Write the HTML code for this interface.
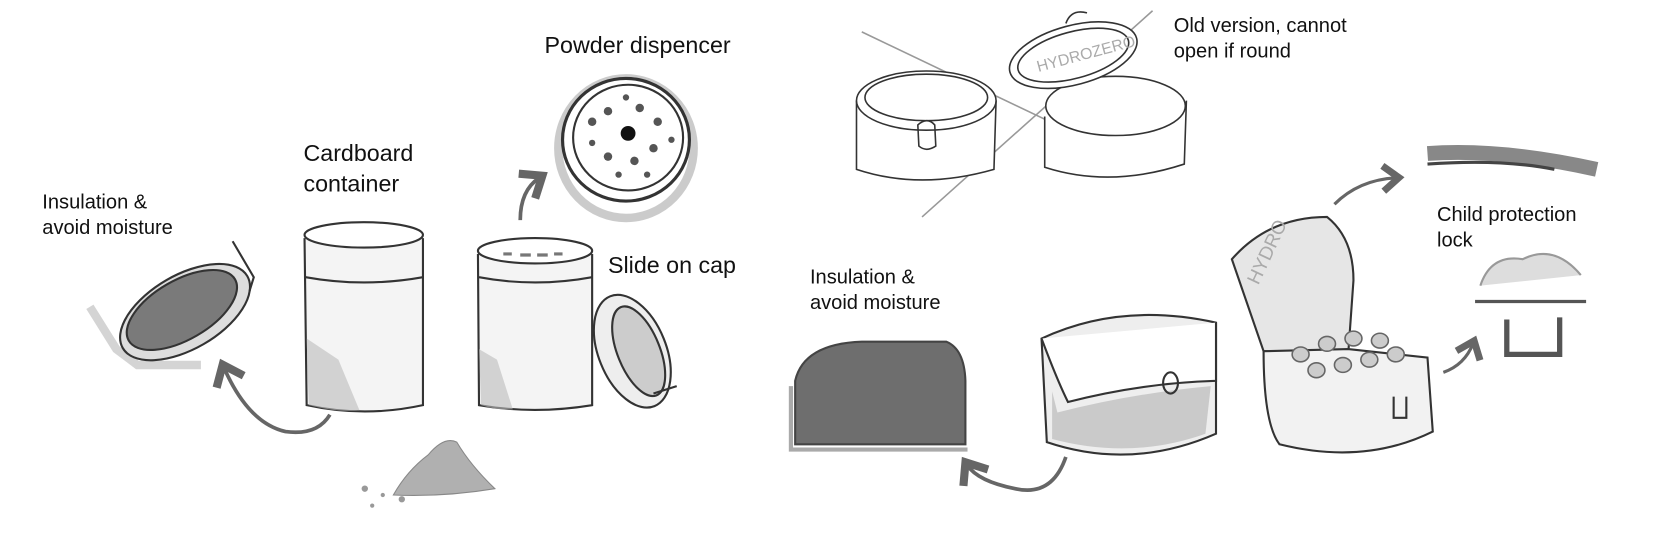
<!DOCTYPE html>
<html><head><meta charset="utf-8"><style>
html,body{margin:0;padding:0;background:#fff;}
svg{display:block;}
text{font-family:"Liberation Sans",sans-serif;fill:#111;stroke:none;}
</style></head><body>
<svg width="1658" height="547" viewBox="0 0 1568 517" xmlns="http://www.w3.org/2000/svg">
<defs>
<marker id="ah" markerWidth="10" markerHeight="10" refX="5" refY="5" orient="auto"><path d="M1,1 L6,5 L1,9" fill="none" stroke="#666" stroke-width="2.2"/></marker>
</defs>
<g stroke="#333" stroke-width="2" fill="none">
<!-- left lid -->
<path d="M85,290 L110,330 L130,345 L190,345" stroke="#aaa" stroke-width="8" opacity=".5"/>
<ellipse cx="175" cy="295" rx="68" ry="35" transform="rotate(-30 175 295)" fill="#ddd"/>
<ellipse cx="172" cy="293" rx="58" ry="28" transform="rotate(-30 172 293)" fill="#7a7a7a"/>
<path d="M220,228 L240,262 L236,275"/>
<!-- cardboard container -->
<path d="M288,225 L290,383 Q345,395 400,383 L400,225" fill="#f4f4f4"/>
<path d="M290,320 L292,383 Q320,390 340,388 L320,340 Z" fill="#bbb" stroke="none" opacity=".6"/>
<ellipse cx="344" cy="222" rx="56" ry="12" fill="#fff"/>
<path d="M289,262 Q344,272 400,262"/>
<!-- second cylinder -->
<path d="M452,240 L453,383 Q505,392 560,383 L560,240" fill="#f4f4f4"/>
<path d="M453,330 L455,383 Q470,388 485,387 L470,340 Z" fill="#bbb" stroke="none" opacity=".6"/>
<ellipse cx="506" cy="237" rx="54" ry="12" fill="#fff"/>
<path d="M476,240 h8 M492,241 h10 M508,241 h10 M524,240 h8" stroke="#777" stroke-width="3"/>
<path d="M453,262 Q506,272 560,262"/>
<!-- cap -->
<ellipse cx="598" cy="332" rx="32" ry="56" transform="rotate(-22 598 332)" fill="#eee"/>
<ellipse cx="604" cy="332" rx="20" ry="45" transform="rotate(-22 604 332)" fill="#ccc"/>
<path d="M618,372 L640,365" />
<!-- powder dispenser -->
<ellipse cx="592" cy="140" rx="64" ry="66" fill="#fff" stroke="#999" stroke-width="8" opacity=".5"/>
<ellipse cx="592" cy="132" rx="60" ry="58" fill="#fff" stroke-width="3"/>
<ellipse cx="594" cy="130" rx="52" ry="50"/>
<g fill="#555" stroke="none">
<circle cx="594" cy="126" r="7" fill="#111"/>
<circle cx="560" cy="115" r="4"/><circle cx="575" cy="105" r="4"/><circle cx="605" cy="102" r="4"/><circle cx="622" cy="115" r="4"/>
<circle cx="618" cy="140" r="4"/><circle cx="600" cy="152" r="4"/><circle cx="575" cy="148" r="4"/><circle cx="560" cy="135" r="3"/>
<circle cx="635" cy="132" r="3"/><circle cx="585" cy="165" r="3"/><circle cx="612" cy="165" r="3"/><circle cx="592" cy="92" r="3"/>
</g>
<!-- arrows left -->
<path d="M312,392 Q300,412 270,408 Q235,400 212,348" stroke="#666" stroke-width="3.5" marker-end="url(#ah)"/>
<path d="M492,208 Q492,180 510,168" stroke="#666" stroke-width="3.5" marker-end="url(#ah)"/>
<!-- powder pile -->
<path d="M372,468 Q385,445 405,430 Q420,412 432,418 Q445,440 468,462 Q420,470 372,468 Z" fill="#b0b0b0" stroke="#888" stroke-width="1"/>
<g fill="#999" stroke="none"><circle cx="345" cy="462" r="3"/><circle cx="352" cy="478" r="2"/><circle cx="380" cy="472" r="3"/><circle cx="362" cy="468" r="2"/></g>

<!-- old version containers -->
<g stroke-width="1.5">
<line x1="815" y1="30" x2="1035" y2="135" stroke="#999"/>
<line x1="872" y1="205" x2="1090" y2="10" stroke="#999"/>
<path d="M810,95 L810,160 Q870,180 940,160 L942,95" fill="#fff"/>
<ellipse cx="876" cy="95" rx="66" ry="28" fill="#fff"/>
<ellipse cx="876" cy="92" rx="58" ry="22"/>
<path d="M868,118 q9,-8 16,0 l1,20 q-9,6 -16,0 z"/>
<path d="M988,110 L988,158 Q1050,178 1120,155 L1122,95" fill="#fff"/>
<ellipse cx="1055" cy="100" rx="66" ry="28" fill="#fff"/>
<ellipse cx="1015" cy="52" rx="62" ry="28" transform="rotate(-15 1015 52)" fill="#fff"/>
<ellipse cx="1015" cy="52" rx="54" ry="22" transform="rotate(-15 1015 52)"/>
<path d="M1008,22 q5,-14 20,-10"/>
<text x="982" y="68" font-size="15" transform="rotate(-15 982 68)" style="fill:#aaa">HYDROZERO</text>
</g>
<!-- bottom right -->
<path d="M752,360 Q760,325 815,323 L895,323 Q912,330 913,360 L913,420 L752,420 Z" fill="#6e6e6e" stroke="#444"/>
<path d="M748,365 L748,425 L915,425" stroke="#aaa" stroke-width="4"/>
<path d="M985,320 Q1060,285 1150,305 L1150,410 Q1070,445 990,418 Z" fill="#eee"/>
<path d="M985,320 Q1000,360 1010,380 Q1080,362 1150,360 L1150,305" fill="#fff"/>
<path d="M995,370 L995,415 Q1070,435 1140,410 L1145,365 Q1070,372 1000,390 Z" fill="#bbb" stroke="none" opacity=".7"/>
<ellipse cx="1107" cy="362" rx="7" ry="10"/>
<!-- open box -->
<path d="M1165,245 Q1200,205 1255,205 Q1280,225 1280,265 L1275,335 L1195,332 Z" fill="#e6e6e6"/>
<path d="M1195,332 L1275,330 L1350,338 L1355,408 Q1290,440 1210,420 Q1195,400 1195,332 Z" fill="#f2f2f2"/>
<g fill="#ccc" stroke="#666" stroke-width="1.5"><ellipse cx="1230" cy="335" rx="8" ry="7"/><ellipse cx="1255" cy="325" rx="8" ry="7"/><ellipse cx="1280" cy="320" rx="8" ry="7"/><ellipse cx="1305" cy="322" rx="8" ry="7"/><ellipse cx="1245" cy="350" rx="8" ry="7"/><ellipse cx="1270" cy="345" rx="8" ry="7"/><ellipse cx="1295" cy="340" rx="8" ry="7"/><ellipse cx="1320" cy="335" rx="8" ry="7"/></g>
<path d="M1318,375 l0,20 l12,0 l0,-20"/>
<text x="1190" y="270" font-size="18" transform="rotate(-65 1190 270)" style="fill:#aaa">HYDRO</text>
<!-- lock parts -->
<path d="M1350,145 Q1420,140 1510,160" stroke="#888" stroke-width="14"/>
<path d="M1350,155 Q1420,150 1470,160" stroke="#444" stroke-width="3"/>
<path d="M1395,285 L1500,285" stroke="#555" stroke-width="3"/>
<path d="M1400,270 q10,-30 40,-25 q30,-15 55,15" fill="#ddd" stroke="#999"/>
<path d="M1425,302 L1425,335 L1475,335 L1475,300" stroke="#555" stroke-width="5"/>
<!-- arrows right -->
<path d="M1008,432 Q995,470 960,462 Q925,455 915,440" stroke="#666" stroke-width="3.5" marker-end="url(#ah)"/>
<path d="M1262,193 Q1285,170 1320,168" stroke="#666" stroke-width="3" marker-end="url(#ah)"/>
<path d="M1365,352 Q1385,345 1393,325" stroke="#666" stroke-width="3" marker-end="url(#ah)"/>
</g>
<text x="40" y="197" font-size="19">Insulation &amp;</text>
<text x="40" y="221" font-size="19">avoid moisture</text>
<text x="287" y="152" font-size="22">Cardboard</text>
<text x="287" y="181" font-size="22">container</text>
<text x="515" y="50" font-size="22">Powder dispencer</text>
<text x="575" y="258" font-size="22">Slide on cap</text>
<text x="1110" y="30" font-size="19">Old version, cannot</text>
<text x="1110" y="54" font-size="19">open if round</text>
<text x="1359" y="209" font-size="19">Child protection</text>
<text x="1359" y="233" font-size="19">lock</text>
<text x="766" y="268" font-size="19">Insulation &amp;</text>
<text x="766" y="292" font-size="19">avoid moisture</text>
</svg>
</body></html>
